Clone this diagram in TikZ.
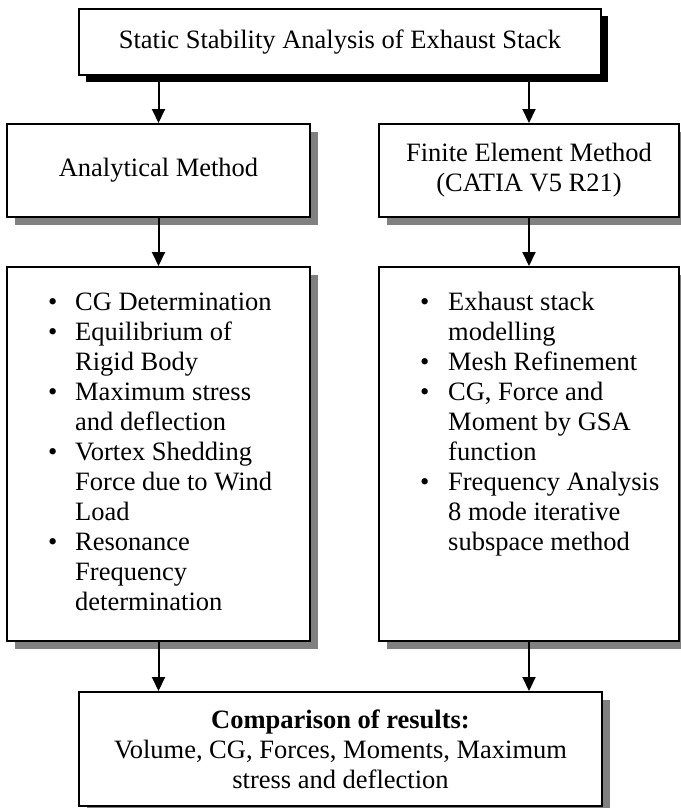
\documentclass[tikz,border=0pt]{standalone}
\usepackage{fontspec}
\setmainfont{Liberation Serif}
\usetikzlibrary{arrows.meta,shadows}
\definecolor{shadowgray}{HTML}{808080}
\begin{document}
\begin{tikzpicture}[x=1pt,y=-1pt,
  box/.style={draw=black,line width=2pt,fill=white,inner sep=0pt,font=\fontsize{26.5}{30}\selectfont},
  gshadow/.style={general shadow={fill=shadowgray,shadow xshift=8pt,shadow yshift=-8pt}},
  bshadow/.style={general shadow={fill=black,shadow xshift=7pt,shadow yshift=-7pt}},
  listtext/.style={inner sep=0pt,anchor=base west,font=\fontsize{26.5}{30}\selectfont},
  arr/.style={line width=2pt,-{Triangle[length=14pt,width=13pt]}}]
\useasboundingbox (0,0) rectangle (680,808);
\node[box,bshadow,minimum width=522pt,minimum height=66pt] (top) at (340,42) {Static Stability Analysis of Exhaust Stack};
\node[box,gshadow,minimum width=303pt,minimum height=93pt] (am) at (158.5,170.5) {Analytical Method};
\node[box,gshadow,minimum width=300pt,minimum height=93pt,align=center] (fem) at (529,170.5) {Finite Element Method\\(CATIA V5 R21)};
\node[box,gshadow,minimum width=303pt,minimum height=374pt] (al) at (158.5,454) {};
\node[box,gshadow,minimum width=300pt,minimum height=374pt] (fl) at (529,454) {};
\node[box,gshadow,minimum width=523pt,minimum height=114pt,align=center] (res) at (340.5,749) {\textbf{Comparison of results:}\\Volume, CG, Forces, Moments, Maximum\\stress and deflection};
\node[listtext] (alt) at (48,310) {\begin{tabular}[t]{@{}p{27pt}@{}l@{}}
\textbullet & CG Determination\\
\textbullet & Equilibrium of\\
 & Rigid Body\\
\textbullet & Maximum stress\\
 & and deflection\\
\textbullet & Vortex Shedding\\
 & Force due to Wind\\
 & Load\\
\textbullet & Resonance\\
 & Frequency\\
 & determination
\end{tabular}};
\node[listtext] (flt) at (420,310) {\begin{tabular}[t]{@{}p{28pt}@{}l@{}}
\textbullet & Exhaust stack\\
 & modelling\\
\textbullet & Mesh Refinement\\
\textbullet & CG, Force and\\
 & Moment by GSA\\
 & function\\
\textbullet & Frequency Analysis\\
 & 8 mode iterative\\
 & subspace method
\end{tabular}};
\draw[arr] (am.north |- top.south) -- (am.north);
\draw[arr] (fem.north |- top.south) -- (fem.north);
\draw[arr] (am.south) -- (al.north);
\draw[arr] (fem.south) -- (fl.north);
\draw[arr] (al.south) -- (res.north -| al.south);
\draw[arr] (fl.south) -- (res.north -| fl.south);
\end{tikzpicture}
\end{document}
